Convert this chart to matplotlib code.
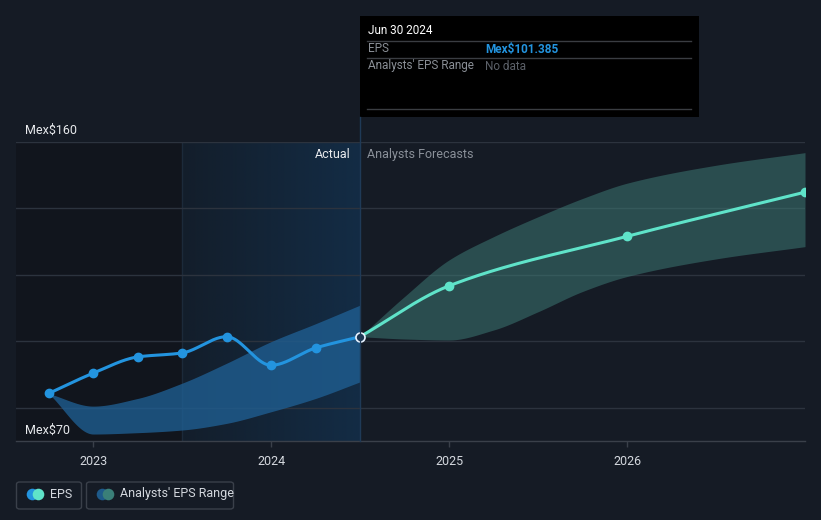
import numpy as np
import matplotlib
matplotlib.use("Agg")
import matplotlib.pyplot as plt
from matplotlib.lines import Line2D
from matplotlib.patches import FancyBboxPatch, Rectangle
from matplotlib.colors import to_rgb

plt.rcParams['font.family'] = ['Roboto', 'DejaVu Sans']

# ---------------- data ----------------
actual_x = [2022.75, 2023.0, 2023.25, 2023.5, 2023.75, 2024.0, 2024.25, 2024.5]
actual_eps = [84.3, 90.4, 95.3, 96.5, 101.4, 92.8, 98.0, 101.385]

hist_band_x = [2022.75, 2023.0, 2023.25, 2023.5, 2023.75, 2024.0, 2024.25, 2024.5]
hist_low = [84.3, 72.1, 72.5, 73.3, 75.3, 78.8, 82.8, 87.8]
hist_high = [84.3, 80.5, 82.8, 87.4, 93.4, 99.9, 105.3, 110.9]

fc_x = [2024.5, 2025.0, 2026.0, 2027.0]
fc_eps = [101.385, 116.7, 131.6, 144.9]

fc_band_x = [2024.5, 2024.75, 2025.0, 2025.25, 2025.5, 2025.75, 2026.0, 2026.5, 2027.0]
fc_low = [101.4, 100.7, 100.4, 103.4, 108.9, 115.0, 119.5, 124.8, 128.5]
fc_high = [101.4, 113.5, 124.5, 131.5, 137.5, 143.0, 147.6, 153.0, 156.8]

year_ticks = [2023, 2024, 2025, 2026]
year_labels = ["2023", "2024", "2025", "2026"]
y_min, y_max = 70, 160
grid_vals = [80, 100, 120, 140, 160]

# ---------------- helpers ----------------
def pchip(x, y, n=60):
    x = np.asarray(x, float); y = np.asarray(y, float)
    h = np.diff(x); d = np.diff(y) / h
    m = np.zeros_like(y)
    m[0] = d[0]; m[-1] = d[-1]
    for k in range(1, len(x) - 1):
        if d[k - 1] * d[k] <= 0:
            m[k] = 0.0
        else:
            w1 = 2 * h[k] + h[k - 1]; w2 = h[k] + 2 * h[k - 1]
            m[k] = (w1 + w2) / (w1 / d[k - 1] + w2 / d[k])
    xs, ys = [], []
    for k in range(len(x) - 1):
        t = np.linspace(0, 1, n, endpoint=(k == len(x) - 2))
        h00 = 2 * t**3 - 3 * t**2 + 1; h10 = t**3 - 2 * t**2 + t
        h01 = -2 * t**3 + 3 * t**2; h11 = t**3 - t**2
        xs.append(x[k] + t * h[k])
        ys.append(h00 * y[k] + h10 * h[k] * m[k] + h01 * y[k + 1] + h11 * h[k] * m[k + 1])
    return np.concatenate(xs), np.concatenate(ys)

W, H = 821, 520
def fx(px): return px / W
def fy(py): return 1 - py / H

BG = '#151b25'
fig = plt.figure(figsize=(W / 100, H / 100), dpi=100, facecolor=BG)
ax = fig.add_axes([fx(16), fy(441), (805 - 16) / W, (441 - 142) / H])
ax.set_facecolor(BG)
x0, x1 = 2022.567, 2027.0
ax.set_xlim(x0, x1)
ax.set_ylim(y_min, y_max)

# regions
ax.axvspan(x0, 2023.5, color='#11151d', zorder=0, lw=0)
c1 = np.array(to_rgb('#131e2b')); c2 = np.array(to_rgb('#132c45'))
grad = np.linspace(0, 1, 256)[None, :, None]
img = c1 * (1 - grad) + c2 * grad
ax.imshow(img, extent=(2023.5, 2024.5, y_min, y_max), aspect='auto', zorder=0.1, interpolation='bilinear')
ax.axvline(2023.5, color='#1c2a3a', lw=1, zorder=0.2)
ax.set_xlim(x0, x1); ax.set_ylim(y_min, y_max)

# grid
for g in grid_vals:
    ax.axhline(g, color='#2c333e', lw=1, zorder=0.5)

# bands
bx, bl = pchip(hist_band_x, hist_low)
_, bh = pchip(hist_band_x, hist_high)
ax.fill_between(bx, bl, bh, color='#1f5f93', alpha=0.78, lw=0, zorder=1)
fxs, fl = pchip(fc_band_x, fc_low)
_, fh = pchip(fc_band_x, fc_high)
ax.fill_between(fxs, fl, fh, color='#3f7f79', alpha=0.5, lw=0, zorder=1)

# lines
ax_, ay_ = pchip(actual_x, actual_eps)
ax.plot(ax_, ay_, color='#2394df', lw=2.2, zorder=3, solid_capstyle='round')
ax.plot(actual_x[:-1], actual_eps[:-1], 'o', color='#2394df', ms=6, zorder=4)
fx_, fy_ = pchip(fc_x, fc_eps)
ax.plot(fx_, fy_, color='#5fe3c9', lw=2.2, zorder=3, solid_capstyle='round')
ax.plot(fc_x[1:], fc_eps[1:], 'o', color='#5fe3c9', ms=6, zorder=4)
ax.plot([actual_x[-1]], [actual_eps[-1]], 'o', ms=6.5, mfc='#1c3652', mec='#e8f2ff', mew=1.2, zorder=5)

# axes styling
for s in ['top', 'right', 'left']:
    ax.spines[s].set_visible(False)
ax.spines['bottom'].set_color('#3a404a')
ax.spines['bottom'].set_linewidth(1)
ax.set_yticks([])
ax.set_xticks(year_ticks)
ax.set_xticklabels(year_labels, color='#d4d8de', fontsize=9)
ax.tick_params(axis='x', colors='#3a404a', length=4, width=1, pad=6, labelcolor='#d4d8de')

# vertical divider line at 2024.5 (to tooltip)
xpix = 16 + (2024.5 - x0) / (x1 - x0) * (805 - 16)
fig.add_artist(Line2D([fx(xpix), fx(xpix)], [fy(117), fy(441)], color='#1f3a57', lw=1))

# labels
fig.text(fx(25), fy(130), "Mex$160", color='#e8eaed', fontsize=9, va='center', ha='left')
fig.text(fx(25), fy(430), "Mex$70", color='#e8eaed', fontsize=9, va='center', ha='left')
fig.text(fx(351), fy(154), "Actual", color='#e8eaed', fontsize=9, va='center', ha='right')
fig.text(fx(367), fy(154), "Analysts Forecasts", color='#8a9099', fontsize=9, va='center', ha='left')

# tooltip
fig.add_artist(Rectangle((fx(360), fy(117)), (699 - 360) / W, (117 - 16) / H, facecolor='#000000', edgecolor='none'))
fig.text(fx(368), fy(31), "Jun 30 2024", color='#ffffff', fontsize=8.5, va='center', ha='left')
for ly in [41.5, 58.3, 109.3]:
    fig.add_artist(Line2D([fx(367), fx(691)], [fy(ly), fy(ly)], color='#3a3d42', lw=1))
fig.text(fx(368), fy(49), "EPS", color='#8a8f96', fontsize=8.5, va='center', ha='left')
fig.text(fx(485), fy(49), "Mex$101.385", color='#2394df', fontsize=8.5, va='center', ha='left', fontweight='bold')
fig.text(fx(368), fy(66), "Analysts' EPS Range", color='#8a8f96', fontsize=8.5, va='center', ha='left')
fig.text(fx(485), fy(66), "No data", color='#5c6169', fontsize=8.5, va='center', ha='left')

# legend
def legbox(xa, xb):
    fig.add_artist(FancyBboxPatch((fx(xa), fy(509)), (xb - xa) / W, 27 / H,
                                  boxstyle="round,pad=0,rounding_size=0.004",
                                  facecolor='none', edgecolor='#3a404a', lw=1))
legbox(16.5, 81.5)
legbox(86.5, 233.5)
ax_leg = fig.add_axes([0, 0, 1, 1], facecolor='none')
ax_leg.set_xlim(0, W); ax_leg.set_ylim(H, 0); ax_leg.axis('off')
ax_leg.scatter([32], [494], s=70, color='#2394df', lw=0)
ax_leg.scatter([37.5], [494], s=70, color='#5fe3c9', lw=0)
ax_leg.scatter([102], [494], s=70, color='#1e5a8a', lw=0)
ax_leg.scatter([107.5], [494], s=70, color='#3a7f78', lw=0)
fig.text(fx(50), fy(494), "EPS", color='#d4d8de', fontsize=9, va='center', ha='left')
fig.text(fx(120), fy(494), "Analysts' EPS Range", color='#d4d8de', fontsize=9, va='center', ha='left')

fig.savefig("out.png", dpi=100, facecolor=BG)
